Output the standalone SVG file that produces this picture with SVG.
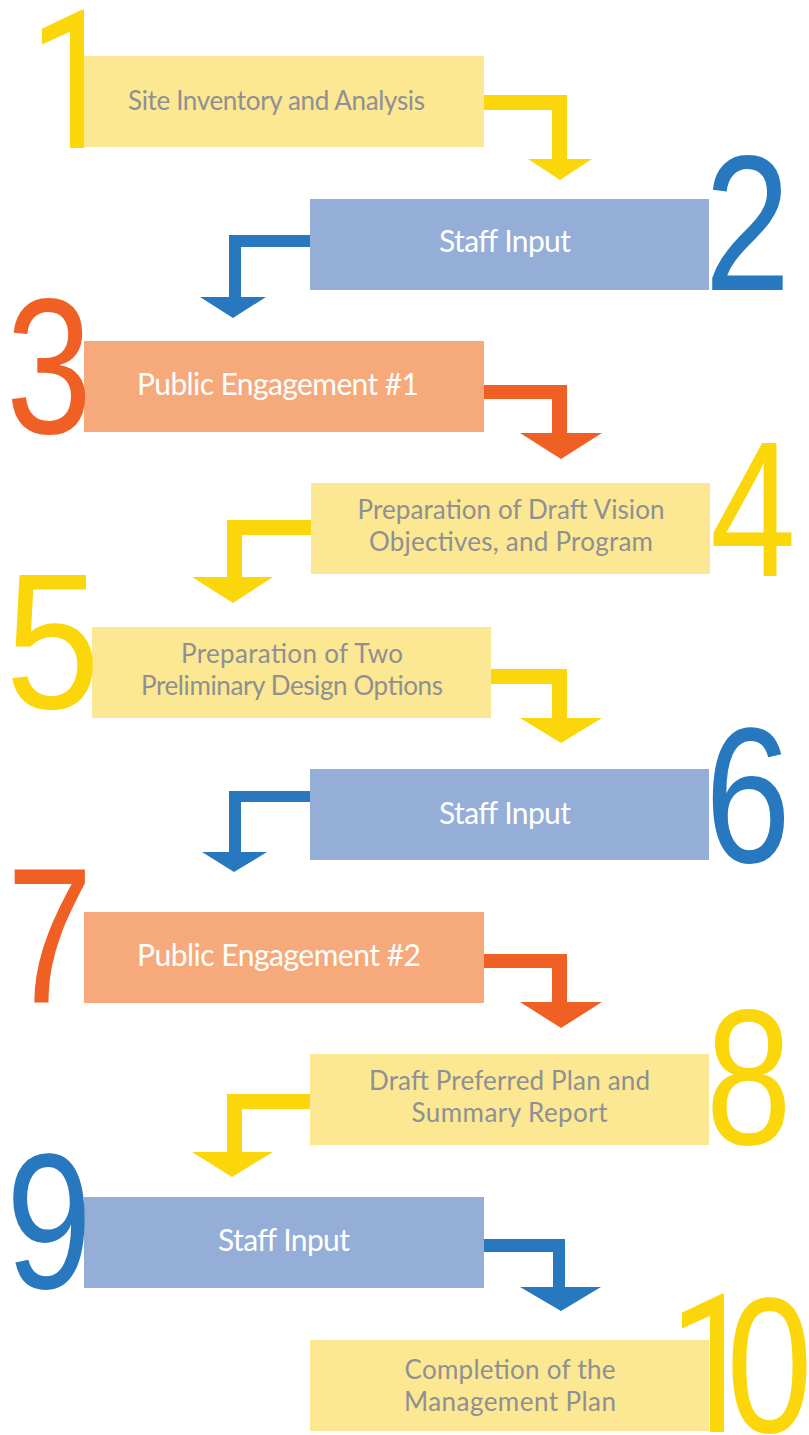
<svg xmlns="http://www.w3.org/2000/svg" width="809" height="1435" viewBox="0 0 809 1435">
  <style>
    .bg { fill: #ffffff; }
    .box-y { fill: #fce792; }
    .box-b { fill: #94aed8; }
    .box-o { fill: #f6aa7c; }
    .lbl-g { font-family: Lato, "Open Sans", "Liberation Sans", sans-serif; font-size: 26px; fill: #8e9094; text-anchor: middle; }
    .lbl-w { font-family: Lato, "Open Sans", "Liberation Sans", sans-serif; font-size: 30px; fill: #ffffff; text-anchor: middle; }
    .num { font-family: "Liberation Sans", Arial, sans-serif; font-size: 193px; }
    .one { font-family: Roboto, "Liberation Sans", sans-serif; font-size: 193px; }
    .y { fill: #fad60a; }
    .b { fill: #2778be; }
    .o { fill: #f05f24; }
  </style>

  <rect class="bg" x="0" y="0" width="809" height="1435"/>

  <!-- elbow arrows between steps -->
  <g id="connectors">
    <polygon class="y" points="484,95 567,95 567,159 592,159 560,180 528,159 552,159 552,110 484,110"/>
    <polygon class="b" points="310,235 229,235 229,297 200,297 233,318 266,297 241,297 241,247 310,247"/>
    <polygon class="o" points="484,385 567,385 567,433 602,433 561,459 520,433 552,433 552,399 484,399"/>
    <polygon class="y" points="311,520 227,520 227,577 192,577 233,603 273,577 242,577 242,535 311,535"/>
    <polygon class="y" points="491,669 567,669 567,718 602,718 561,743 520,718 552,718 552,684 491,684"/>
    <polygon class="b" points="310,791 229,791 229,852 202,852 234,872 267,852 241,852 241,802 310,802"/>
    <polygon class="o" points="484,954 567,954 567,1002 602,1002 561,1028 520,1002 552,1002 552,968 484,968"/>
    <polygon class="y" points="310,1094 227,1094 227,1152 192,1152 232,1177 273,1152 242,1152 242,1109 310,1109"/>
    <polygon class="b" points="484,1239 565,1239 565,1287 601,1287 561,1311 520,1287 553,1287 553,1252 484,1252"/>
  </g>

  <g id="step1">
    <rect class="box-y" x="84" y="56" width="400" height="91"/>
    <text class="one y" transform="translate(29,148) scale(0.8,1)">1</text>
    <text class="lbl-g" x="276.5" y="110" textLength="297">Site Inventory and Analysis</text>
  </g>

  <g id="step2">
    <rect class="box-b" x="310" y="199" width="399" height="91"/>
    <text class="num b" transform="translate(704.5,290) scale(0.8,1)">2</text>
    <text class="lbl-w" x="505" y="252" textLength="132">Staff Input</text>
  </g>

  <g id="step3">
    <rect class="box-o" x="84" y="341" width="400" height="91"/>
    <text class="num o" transform="translate(5.9,433) scale(0.8,1)">3</text>
    <text class="lbl-w" x="278" y="395" textLength="282">Public Engagement #1</text>
  </g>

  <g id="step4">
    <rect class="box-y" x="311" y="483" width="399" height="91"/>
    <text class="num y" transform="translate(710,576) scale(0.8,1)">4</text>
    <text class="lbl-g" x="511" y="519" textLength="307">Preparation of Draft Vision</text>
    <text class="lbl-g" x="511" y="551" textLength="284">Objectives, and Program</text>
  </g>

  <g id="step5">
    <rect class="box-y" x="92" y="627" width="399" height="91"/>
    <text class="num y" font-size="176" transform="translate(5.6,708) scale(0.88,1)">5</text>
    <text class="lbl-g" x="292" y="663" textLength="222">Preparation of Two</text>
    <text class="lbl-g" x="292" y="695" textLength="302">Preliminary Design Options</text>
  </g>

  <g id="step6">
    <rect class="box-b" x="310" y="769" width="399" height="91"/>
    <text class="num b" transform="translate(705,862) scale(0.8,1)">6</text>
    <text class="lbl-w" x="505" y="824" textLength="132">Staff Input</text>
  </g>

  <g id="step7">
    <rect class="box-o" x="84" y="912" width="400" height="91"/>
    <text class="num o" transform="translate(6.7,1003) scale(0.8,1)">7</text>
    <text class="lbl-w" x="279" y="966" textLength="284">Public Engagement #2</text>
  </g>

  <g id="step8">
    <rect class="box-y" x="310" y="1054" width="399" height="91"/>
    <text class="num y" transform="translate(705.7,1144) scale(0.8,1)">8</text>
    <text class="lbl-g" x="509.5" y="1090" textLength="281">Draft Preferred Plan and</text>
    <text class="lbl-g" x="509.5" y="1122" textLength="196">Summary Report</text>
  </g>

  <g id="step9">
    <rect class="box-b" x="84" y="1197" width="400" height="91"/>
    <text class="num b" transform="translate(6,1288) scale(0.8,1)">9</text>
    <text class="lbl-w" x="284" y="1251" textLength="132">Staff Input</text>
  </g>

  <g id="step10">
    <rect class="box-y" x="310" y="1340" width="399" height="91"/>
    <text class="one y" transform="translate(669,1432) scale(0.8,1)">1</text>
    <text class="num y" transform="translate(726.6,1432) scale(0.8,1)">0</text>
    <text class="lbl-g" x="510" y="1379" textLength="211">Completion of the</text>
    <text class="lbl-g" x="510" y="1411" textLength="212">Management Plan</text>
  </g>
</svg>
